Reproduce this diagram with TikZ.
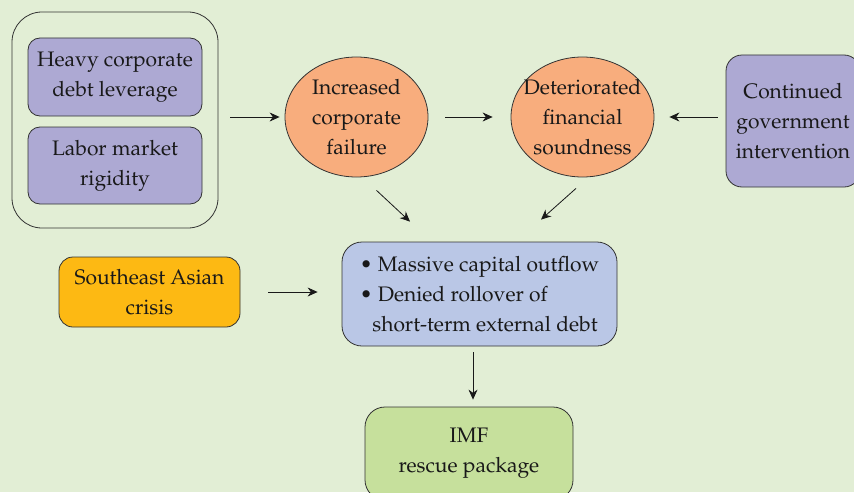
\documentclass[tikz,border=0pt]{standalone}
\usepackage[T1]{fontenc}
\usepackage{mathpazo}
\usepackage{xcolor}
\usetikzlibrary{positioning}
\usetikzlibrary{arrows.meta}
\usetikzlibrary{shapes.geometric}
\definecolor{pagebg}{HTML}{E2EED5}
\definecolor{lavender}{HTML}{ADA9D3}
\definecolor{salmon}{HTML}{F8AD7D}
\definecolor{amber}{HTML}{FDB913}
\definecolor{paleblue}{HTML}{BAC7E6}
\definecolor{palegreen}{HTML}{C6E09C}
\tikzset{
every node/.style={ % Text of all boxes
font=\fontsize{10.5}{15}\selectfont,
align=center,
text=black!90},
box/.style={ % Rounded boxes
draw=black!80,
thin,
inner sep=2pt,
rounded corners=6pt},
factor/.style={ % Causes in lavender
box,
fill=lavender},
outcome/.style={ % Effects in the ellipses
draw=black!80,
thin,
ellipse,
inner xsep=-9pt,
inner ysep=-4pt,
fill=salmon,
minimum width=71.5pt,
minimum height=60pt},
link/.style={ % Arrows between the nodes
draw=black!90,
thin,
-{Stealth[length=5pt,width=4.5pt]}}}

\begin{document}
\begin{tikzpicture}[x=0.5pt,y=-0.5pt]
\useasboundingbox[fill=pagebg] (0,0) rectangle (854,492);
% causes on the left
\node[box, rounded corners=15pt, minimum width=103pt, minimum height=108pt] (group) at (115,120) {};
\node[factor, minimum width=87pt, minimum height=39pt] (debt) at (115,77) {Heavy corporate\\debt leverage};
\node[factor, minimum width=87pt, minimum height=38.5pt] (labor) at (115,165.5) {Labor market\\rigidity};
% the two ellipses
\node[outcome] (failure) at (356.5,117) {Increased\\corporate\\failure};
\node[outcome] (soundness) at (582.5,117) {Deteriorated\\financial\\soundness};
\node[factor, rounded corners=8pt, minimum width=67pt, minimum height=66pt] (govt) at (793,121) {Continued\\government\\intervention};
% lower row
\node[box, fill=amber, rounded corners=7pt, minimum width=90.5pt, minimum height=35pt] (asia) at (149.5,292) {Southeast Asian\\crisis};
\node[box, fill=paleblue, rounded corners=10pt, minimum width=137.5pt, minimum height=52pt, align=left] (outflow) at (479.5,294)
{\textbullet\ Massive capital outflow\\\textbullet\ Denied rollover of\\\hspace*{0.6em}short-term external debt};
\node[box, fill=palegreen, rounded corners=10pt, minimum width=104pt, minimum height=46.5pt] (imf) at (469,453.5) {IMF\\rescue package};
% arrows
\draw[link, shorten <=6pt, shorten >=2.5pt] (group.east |- failure) -- (failure.west);
\draw[link, shorten <=8.5pt, shorten >=9pt] (failure.east) -- (soundness.west);
\draw[link, shorten <=4pt, shorten >=7.5pt] (govt.west |- soundness) -- (soundness.east);
\draw[link] ([shift={(20,13)}]failure.south) -- ([shift={(-69.5,-20)}]outflow.north);
\draw[link] ([shift={(-6.5,11)}]soundness.south) -- ([shift={(61.5,-22)}]outflow.north);
\draw[link, shorten <=14pt, shorten >=12pt] (asia.east) -- (outflow.west |- asia.east);
\draw[link] ([shift={(-6.5,6)}]outflow.south) -- ([shift={(4,-7)}]imf.north);
\end{tikzpicture}
\end{document}
